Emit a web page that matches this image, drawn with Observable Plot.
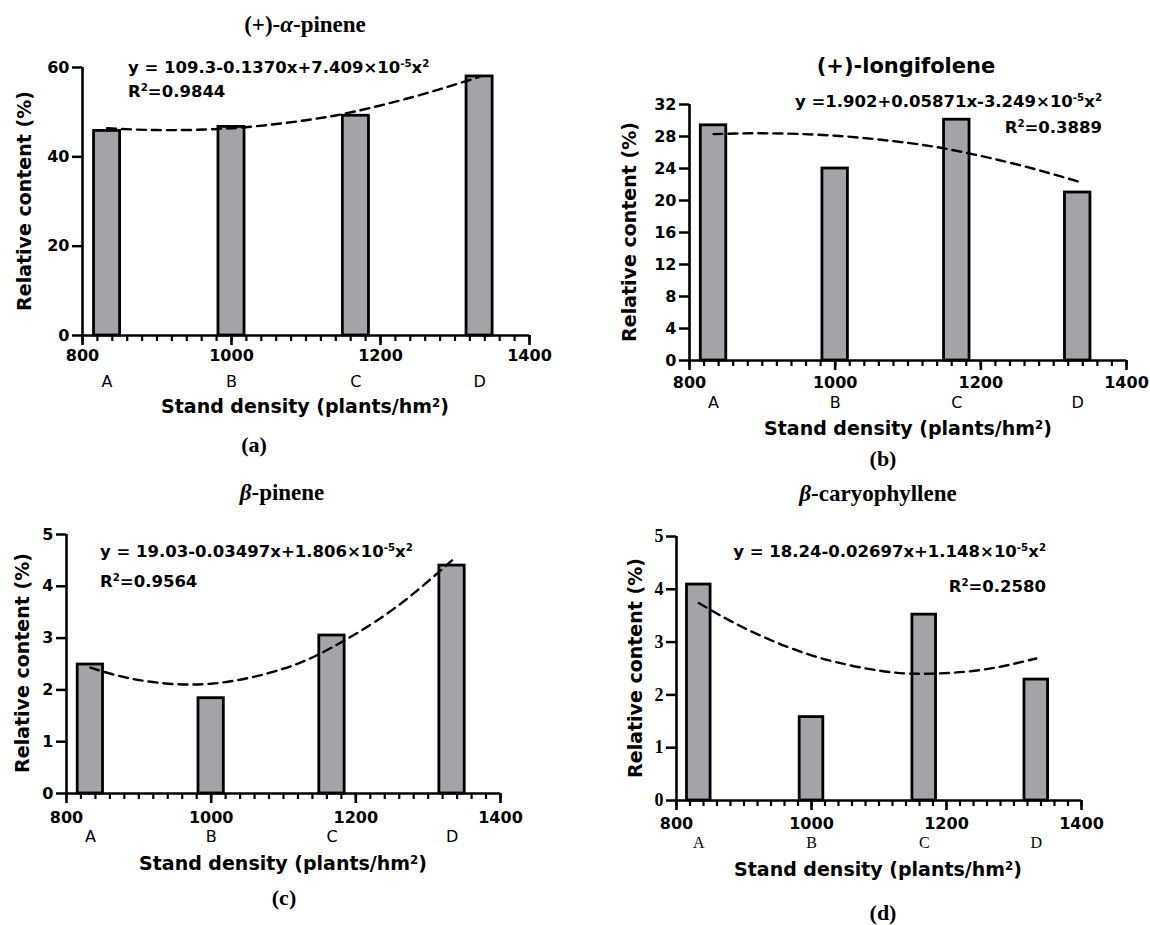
<!DOCTYPE html>
<html><head><meta charset="utf-8">
<script src="https://cdn.jsdelivr.net/npm/d3@7"></script>
<script src="https://cdn.jsdelivr.net/npm/@observablehq/plot@0.6"></script>
<style>
body{margin:0;background:#fff;}
#root{position:relative;width:1150px;height:925px;overflow:hidden;background:#fff;}
.panel{position:absolute;}
.t{position:absolute;white-space:nowrap;line-height:1;color:#000;}
.serif{font-family:"Liberation Serif","Times New Roman",serif;font-weight:bold;}
.sans{font-family:"DejaVu Sans",sans-serif;font-weight:bold;}
.t sup{font-size:0.62em;vertical-align:0;position:relative;top:-0.55em;}
</style></head><body><div id="root"></div><script>
// ---- data ----
const densities = [833, 1000, 1167, 1333];
const standLabels = ["A", "B", "C", "D"];
const alphaPinene = [45.8, 46.7, 49.2, 58.0];
const longifolene = [29.4, 24.0, 30.1, 21.0];
const betaPinene = [2.49, 1.84, 3.05, 4.40];
const caryophyllene = [4.09, 1.58, 3.52, 2.29];

const fitX = [833, 900, 1000, 1100, 1167, 1250, 1333];
const alphaPineneFit = [46.4, 46.0, 46.4, 48.2, 50.2, 53.7, 57.9];
const longifoleneFit = [28.3, 28.4, 28.1, 27.2, 26.2, 24.5, 22.4];
const betaPineneFit = [2.43, 2.19, 2.12, 2.41, 2.82, 3.54, 4.50];
const caryophylleneFit = [3.74, 3.27, 2.75, 2.46, 2.40, 2.47, 2.69];

const xMajorTicks = [800, 1000, 1200, 1400];
const xMinorTicks = d3.range(800, 1401, 20);
const yTicksA = [0, 20, 40, 60];
const yTicksB = [0, 4, 8, 12, 16, 20, 24, 28, 32];
const yTicksC = [0, 1, 2, 3, 4, 5];
const yTicksD = [0, 1, 2, 3, 4, 5];

const titles = ['(+)-<i>α</i>-pinene', '(+)-longifolene', '<i>β</i>-pinene', '<i>β</i>-caryophyllene'];
const equations = [
  'y = 109.3-0.1370x+7.409×10<sup>-5</sup>x<sup>2</sup>',
  'y =1.902+0.05871x-3.249×10<sup>-5</sup>x<sup>2</sup>',
  'y = 19.03-0.03497x+1.806×10<sup>-5</sup>x<sup>2</sup>',
  'y = 18.24-0.02697x+1.148×10<sup>-5</sup>x<sup>2</sup>'
];
const r2Labels = ['R<sup>2</sup>=0.9844', 'R<sup>2</sup>=0.3889', 'R<sup>2</sup>=0.9564', 'R<sup>2</sup>=0.2580'];
const captions = ['(a)', '(b)', '(c)', '(d)'];
const yLabel = 'Relative content (%)';
const xLabel = 'Stand density (plants/hm<sup>2</sup>)';

// ---- layout ----
const panels = [
  {values: alphaPinene, fit: alphaPineneFit, yTicks: yTicksA, yMax: 60,
   left: 0, top: 0, h: 470, x0: 82, x1: 529, yTop: 67, yZero: 335, tickPad: 4, letterY: 386,
   title: [305, 24, "serif"], eqAlign: "left", eqX: 128, eqY: [68, 92], xl: [305, 406], yl: [24, 201], cap: [254, 445],
   yFont: '"DejaVu Sans", sans-serif', letterFont: '"DejaVu Sans", sans-serif'},
  {values: longifolene, fit: longifoleneFit, yTicks: yTicksB, yMax: 32,
   left: 575, top: 0, h: 470, x0: 689, x1: 1126, yTop: 104, yZero: 360, tickPad: 6, letterY: 407,
   title: [906, 66, "sans"], eqAlign: "right", eqX: 1102, eqY: [102, 128], xl: [908, 428], yl: [629, 232], cap: [883, 459],
   yFont: '"DejaVu Sans", sans-serif', letterFont: '"DejaVu Sans", sans-serif'},
  {values: betaPinene, fit: betaPineneFit, yTicks: yTicksC, yMax: 5,
   left: 0, top: 470, h: 455, x0: 66, x1: 500, yTop: 534, yZero: 793, tickPad: 8, letterY: 841,
   title: [282, 492, "serif"], eqAlign: "left", eqX: 100, eqY: [552, 582], xl: [283, 863], yl: [22, 663], cap: [284, 898],
   yFont: '"DejaVu Sans", sans-serif', letterFont: '"DejaVu Sans", sans-serif'},
  {values: caryophyllene, fit: caryophylleneFit, yTicks: yTicksD, yMax: 5,
   left: 575, top: 470, h: 455, x0: 676, x1: 1081, yTop: 536, yZero: 800, tickPad: 7, letterY: 847,
   title: [878, 493, "serif"], eqAlign: "right", eqX: 1046, eqY: [552, 587], xl: [878, 869], yl: [635, 668], cap: [883, 913],
   yFont: '"Liberation Serif", "Times New Roman", serif', letterFont: '"Liberation Serif", "Times New Roman", serif'}
];

const root = document.getElementById("root");
function addText(html, x, y, cls, size, anchor, rotate) {
  const d = document.createElement("div");
  d.className = "t " + cls;
  d.innerHTML = html;
  d.style.left = x + "px";
  d.style.top = y + "px";
  d.style.fontSize = size + "px";
  const tx = anchor === "left" ? "0" : anchor === "right" ? "-100%" : "-50%";
  d.style.transform = `translate(${tx},-50%)` + (rotate ? " rotate(-90deg)" : "");
  root.appendChild(d);
}

panels.forEach((p, i) => {
  const W = 575;
  const rows = densities.map((x, k) => ({density: x, value: p.values[k], letter: standLabels[k]}));
  const fitRows = fitX.map((x, k) => ({x, y: p.fit[k]}));
  const chart = Plot.plot({
    width: W, height: p.h,
    marginLeft: p.x0 - p.left, marginRight: p.left + W - p.x1,
    marginTop: p.yTop - p.top, marginBottom: p.top + p.h - p.yZero,
    x: {domain: [800, 1400]},
    y: {domain: [0, p.yMax]},
    style: {fontFamily: '"DejaVu Sans", sans-serif', fontSize: "16px", fontWeight: "bold", color: "black", background: "white"},
    marks: [
      Plot.rectY(rows, {x1: d => d.density - 17.5, x2: d => d.density + 17.5, y1: () => 0, y2: "value",
        fill: "#a4a4a8", stroke: "black", strokeWidth: 2.8}),
      Plot.line(fitRows, {x: "x", y: "y", curve: "natural", stroke: "black", strokeWidth: 2.4, strokeDasharray: "9,6"}),
      Plot.ruleX([800], {stroke: "black", strokeWidth: 2.6}),
      Plot.ruleY([0], {stroke: "black", strokeWidth: 2.6}),
      Plot.axisY(p.yTicks, {tickSize: 10, tickPadding: 3, label: null, strokeWidth: 2.5,
        tickFormat: d => `${d}`, fontFamily: p.yFont, fontWeight: "bold", fontSize: i === 3 ? 18 : 16}),
      Plot.axisX(xMinorTicks, {tickSize: 6, label: null, strokeWidth: 2.2, tickFormat: () => ""}),
      Plot.axisX(xMajorTicks, {tickSize: 10, tickPadding: p.tickPad, label: null, strokeWidth: 2.6,
        tickFormat: d => `${d}`, fontWeight: "bold", fontSize: 16}),
      Plot.text(rows, {x: "density", text: "letter", frameAnchor: "bottom", dy: p.letterY - p.yZero,
        fontWeight: "normal", fontFamily: p.letterFont, fontSize: 16})
    ]
  });
  const wrap = document.createElement("div");
  wrap.className = "panel";
  wrap.style.left = p.left + "px";
  wrap.style.top = p.top + "px";
  wrap.appendChild(chart);
  root.appendChild(wrap);

  addText(titles[i], p.title[0], p.title[1], p.title[2], p.title[2] === "serif" ? 23 : 21, "center");
  addText(equations[i], p.eqX, p.eqY[0], "sans", 16.5, p.eqAlign);
  addText(r2Labels[i], p.eqX, p.eqY[1], "sans", 16.5, p.eqAlign);
  addText(yLabel, p.yl[0], p.yl[1], "sans", 19, "center", true);
  addText(xLabel, p.xl[0], p.xl[1], "sans", 19, "center");
  addText(captions[i], p.cap[0], p.cap[1], "serif", 22, "center");
});
</script></body></html>
